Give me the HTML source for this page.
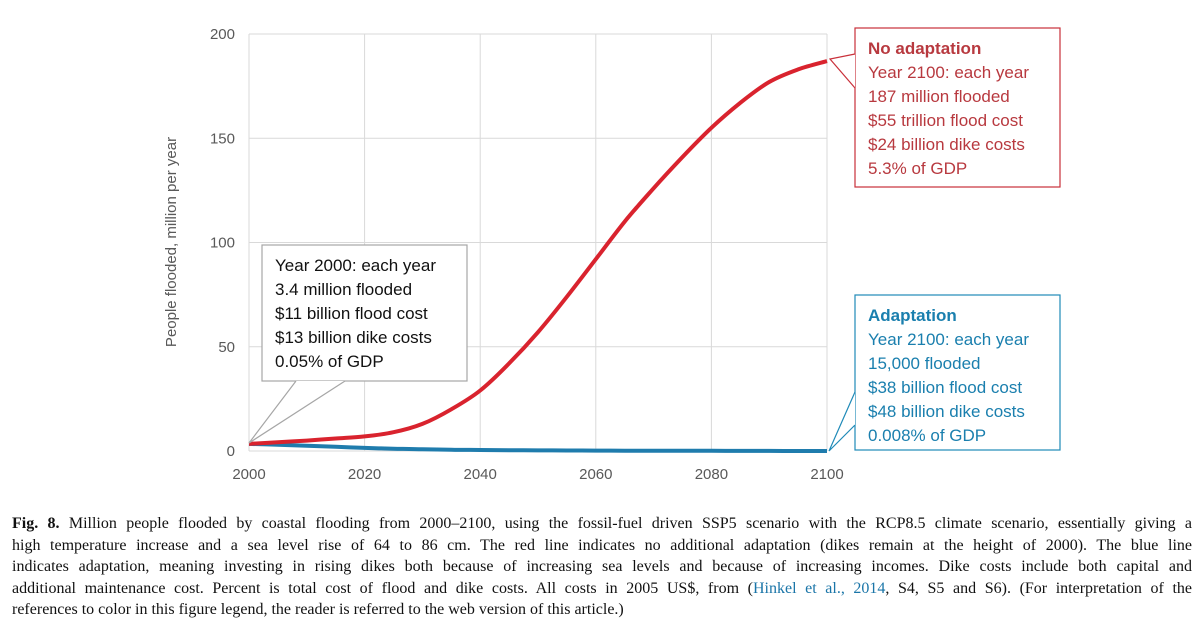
<!DOCTYPE html>
<html><head><meta charset="utf-8"><style>
body{margin:0;background:#fff;width:1200px;height:637px;overflow:hidden;font-family:"Liberation Sans",sans-serif}
.cap{position:absolute;left:12px;top:513px;width:1180px;font-family:"Liberation Serif",serif;font-size:16px;line-height:21.6px;color:#111}
.cap div{text-align:justify;text-align-last:justify;white-space:nowrap;height:21.6px}
.cap div.last{text-align-last:left}
a{color:#1a75a8;text-decoration:none}
</style></head><body>
<svg width="1200" height="500" style="position:absolute;left:0;top:0">
<g id="grid"></g><g id="axes"></g><g id="series"></g><g id="notes"></g>
</svg>
<div class="cap">
<div><b>Fig. 8.</b> Million people flooded by coastal flooding from 2000–2100, using the fossil-fuel driven SSP5 scenario with the RCP8.5 climate scenario, essentially giving a</div>
<div>high temperature increase and a sea level rise of 64 to 86 cm. The red line indicates no additional adaptation (dikes remain at the height of 2000). The blue line</div>
<div>indicates adaptation, meaning investing in rising dikes both because of increasing sea levels and because of increasing incomes. Dike costs include both capital and</div>
<div>additional maintenance cost. Percent is total cost of flood and dike costs. All costs in 2005 US$, from (<a>Hinkel et al., 2014</a>, S4, S5 and S6). (For interpretation of the</div>
<div class="last">references to color in this figure legend, the reader is referred to the web version of this article.)</div>
</div>
<script>
const years=[2000,2005,2010,2015,2020,2025,2030,2035,2040,2045,2050,2055,2060,2065,2070,2075,2080,2085,2090,2095,2100];
const noAdaptation=[3.4,4.2,5,6,7,9,13,20,29,42,57,74,92,110,126,141,155,167,177,183,187];
const adaptation=[3.4,3,2.5,2,1.5,1.1,0.8,0.6,0.5,0.4,0.3,0.25,0.2,0.15,0.12,0.1,0.08,0.05,0.03,0.02,0.015];
const xTicks=[2000,2020,2040,2060,2080,2100];
const yTicks=[0,50,100,150,200];
const NS="http://www.w3.org/2000/svg";
const X0=249,X1=827,Y0=451,Y1=34;
const sx=v=>X0+(v-2000)/100*(X1-X0);
const sy=v=>Y0-(v/200)*(Y0-Y1);
function mk(t,a,p){const e=document.createElementNS(NS,t);for(const k in a)e.setAttribute(k,a[k]);document.getElementById(p).appendChild(e);return e;}
xTicks.forEach(t=>{const l=mk('line',{x1:sx(t),x2:sx(t),y1:Y1,y2:Y0,stroke:'#d9d9d9','stroke-width':1},'grid');


const tx=mk('text',{x:sx(t),y:Y0+28,'text-anchor':'middle','font-size':15,fill:'#595959'},'axes');tx.textContent=t;

});
yTicks.forEach(t=>{const l=mk('line',{x1:X0,x2:X1,y1:sy(t),y2:sy(t),stroke:'#d9d9d9','stroke-width':1},'grid');


const tx=mk('text',{x:X0-14,y:sy(t)+5,'text-anchor':'end','font-size':15,fill:'#595959'},'axes');tx.textContent=t;

});
const yt=mk('text',{x:0,y:0,transform:'translate(176,242) rotate(-90)','text-anchor':'middle','font-size':15,fill:'#595959'},'axes');yt.textContent='People flooded, million per year';


function line(vals,col,name){const P=vals.map((v,i)=>[sx(years[i]),sy(v)]);
let d='M'+P[0][0].toFixed(1)+','+P[0][1].toFixed(1);
for(let i=0;i<P.length-1;i++){const p0=P[Math.max(0,i-1)],p1=P[i],p2=P[i+1],p3=P[Math.min(P.length-1,i+2)];
const c1=[p1[0]+(p2[0]-p0[0])/6,p1[1]+(p2[1]-p0[1])/6],c2=[p2[0]-(p3[0]-p1[0])/6,p2[1]-(p3[1]-p1[1])/6];
d+='C'+c1.map(n=>n.toFixed(1))+' '+c2.map(n=>n.toFixed(1))+' '+p2.map(n=>n.toFixed(1));}
const p=mk('path',{d:d,fill:'none',stroke:col,'stroke-width':4,'stroke-linejoin':'round'},'series');

}
line(adaptation,'#1f7cad','adaptation-line');
line(noAdaptation,'#d9232e','no-adaptation-line');
function box(x,y,w,h,col,ptr,lines,name,bold){
const g=mk('g',{},'notes');
const r=document.createElementNS(NS,'rect');[['x',x],['y',y],['width',w],['height',h],['fill','#fff'],['stroke',col],['stroke-width',1.2]].forEach(a=>r.setAttribute(a[0],a[1]));g.appendChild(r);
const pl=document.createElementNS(NS,'polyline');pl.setAttribute('points',ptr);pl.setAttribute('fill','#fff');pl.setAttribute('stroke',col);pl.setAttribute('stroke-width',1.2);g.appendChild(pl);
lines.forEach((s,i)=>{const t=document.createElementNS(NS,'text');t.setAttribute('x',x+13);t.setAttribute('y',y+26+i*24);t.setAttribute('font-size',17);t.setAttribute('fill',bold?col:'#111');if(bold&&i==0)t.setAttribute('font-weight','bold');t.textContent=s;g.appendChild(t);});}
box(262,245,205,136,'#a6a6a6','296,381 249,443 345,381',['Year 2000: each year','3.4 million flooded','$11 billion flood cost','$13 billion dike costs','0.05% of GDP'],'note-2000',false);
box(855,28,205,159,'#c9303a','855,54 830,59 855,88',['No adaptation','Year 2100: each year','187 million flooded','$55 trillion flood cost','$24 billion dike costs','5.3% of GDP'],'note-no-adaptation',true);
box(855,295,205,155,'#1f8ab8','855,392 829,451 855,425',['Adaptation','Year 2100: each year','15,000 flooded','$38 billion flood cost','$48 billion dike costs','0.008% of GDP'],'note-adaptation',true);
document.querySelectorAll('#notes text').forEach(t=>{if(t.getAttribute('fill')=='#c9303a')t.setAttribute('fill','#b8393f');if(t.getAttribute('fill')=='#1f8ab8')t.setAttribute('fill','#1a7fae');});
</script>
</body></html>
